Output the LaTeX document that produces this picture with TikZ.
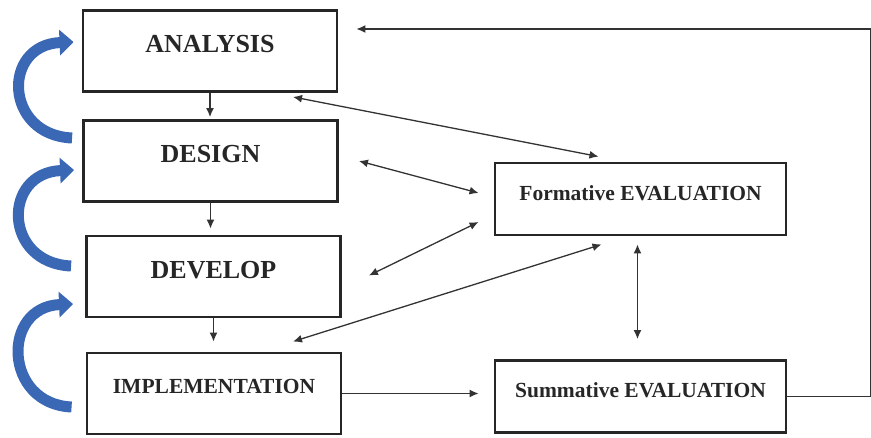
\documentclass[tikz,border=0pt]{standalone}
\usepackage{fontspec}
\setmainfont{Liberation Serif}
\usepackage{tikz}
\usetikzlibrary{calc,arrows.meta,positioning}
\definecolor{curlblue}{HTML}{3B68B5}
\tikzset{
   phase/.style={draw=black!85, line width=2.9pt, minimum width=254pt, minimum height=81pt,
                 inner sep=0pt, text depth=14pt, text=black!85, font=\bfseries\fontsize{26}{28}\selectfont},
   evalbox/.style={phase, minimum width=291pt, minimum height=72pt, text depth=12pt,
                 font=\bfseries\fontsize{21.5}{23}\selectfont},
   link/.style={draw=black!80, line width=1.3pt, -{Latex[length=9pt,width=8pt]}},
   duallink/.style={link, {Latex[length=9pt,width=8pt]}-{Latex[length=9pt,width=8pt]}},
   curl/.style={draw=curlblue, line width=11pt, -{Triangle[length=14pt,width=25pt]}, color=curlblue}
}

\begin{document}
\begin{tikzpicture}[x=1pt,y=-1pt]
\useasboundingbox (0,0) rectangle (871,438);

\node[phase] (analysis) at (210,51) {ANALYSIS};
\node[phase] (design) at (210.5,161) {DESIGN};
\node[phase] (develop) at (213.5,276.5) {DEVELOP};
\node[phase, font=\bfseries\fontsize{21.5}{23}\selectfont] (impl) at (214,393.5) {IMPLEMENTATION};
\node[evalbox] (form) at (640.5,199) {Formative EVALUATION};
\node[evalbox] (summ) at (640.5,396.5) {Summative EVALUATION};

\coordinate (ne) at (870.5,29);

% phase sequence
\draw[link, shorten >=2pt] (analysis.south) -- (analysis.south |- design.north);
\draw[link, shorten >=6pt] (design.south) -- (design.south |- develop.north);
\draw[link, shorten >=10pt] (develop.south) -- (develop.south |- impl.north);
\draw[link, shorten >=15pt] (impl.east) -- (impl.east -| summ.west);

% formative evaluation links
\draw[duallink] ($(analysis.south)+(83,4)$) -- ($(form.north)+(-42,-5)$);
\draw[duallink] ($(design.east)+(20,0)$) -- ($(form.west)+(-15,-6)$);
\draw[duallink] ($(develop.east)+(27,-1)$) -- ($(form.west)+(-15,23)$);
\draw[duallink] ($(impl.north)+(79,-10)$) -- ($(form.south)+(-39,8)$);
\draw[duallink] ($(form.south)+(-3,8)$) -- ($(summ.north)+(-3,-20)$);

% feedback to analysis
\draw[link, shorten >=18pt] (summ.east) -- (summ.east -| ne) -- (ne) -- (ne -| analysis.east);

% blue curls
\draw[curl] ($(design.west)+(-10,-23)$) .. controls +(-68,-3) and +(-72,3) .. ($(analysis.west)+(-8,-9)$);
\draw[curl] ($(develop.west)+(-14,-10.5)$) .. controls +(-68,-3) and +(-72,3) .. ($(design.west)+(-8,9)$);
\draw[curl] ($(impl.west)+(-14,13.5)$) .. controls +(-68,-3) and +(-72,3) .. ($(develop.west)+(-12,27.5)$);
\end{tikzpicture}
\end{document}
